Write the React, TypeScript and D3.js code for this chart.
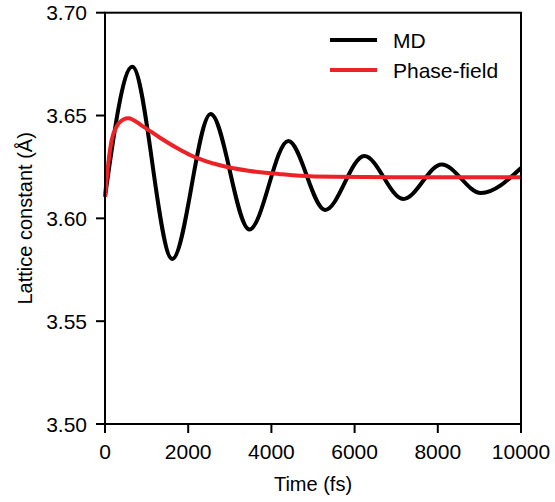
import React from "react";
import * as d3 from "d3";

const mdTime = [0, 656, 1618, 2540, 3470, 4407, 5290, 6233, 7171, 8094, 9038, 10000];
const mdValue = [3.6105, 3.6737, 3.5802, 3.6507, 3.5946, 3.6376, 3.6041, 3.6303, 3.6094, 3.6262, 3.6123, 3.6245];

const pfTime = [0, 80, 160, 280, 440, 560, 920, 1322, 1763, 2043, 2400, 2764, 3486, 4207, 4688, 5500, 7000, 10000];
const pfValue = [3.6105, 3.6269, 3.638, 3.6446, 3.6481, 3.6487, 3.6446, 3.6392, 3.6338, 3.6308, 3.628, 3.6258, 3.623, 3.6215, 3.6207, 3.6202, 3.62, 3.62];

const xTicks = [0, 2000, 4000, 6000, 8000, 10000];
const yTicks = [3.5, 3.55, 3.6, 3.65, 3.7];

const seriesNames = ["MD", "Phase-field"];
const seriesColors = ["#000000", "#ec2227"];

export default function App() {
  const W = 555, H = 502;
  const left = 105, right = 521, top = 12.7, bottom = 424;
  const x = d3.scaleLinear().domain([0, 10000]).range([left, right]);
  const y = d3.scaleLinear().domain([3.5, 3.7]).range([bottom, top]);
  const font = "'Liberation Sans', Arial, Helvetica, sans-serif";

  const line = d3
    .line<[number, number]>()
    .x((d) => x(d[0]))
    .y((d) => y(d[1]))
    .curve(d3.curveMonotoneX);

  const md = mdTime.map((t, i) => [t, mdValue[i]] as [number, number]);
  const pf = pfTime.map((t, i) => [t, pfValue[i]] as [number, number]);

  return (
    <svg width={W} height={H} style={{ position: "absolute", left: 0, top: 0 }} fontFamily={font}>
      <rect width={W} height={H} fill="#fff" />
      <path d={line(md) || ""} fill="none" stroke={seriesColors[0]} strokeWidth={4} strokeLinejoin="round" />
      <path d={line(pf) || ""} fill="none" stroke={seriesColors[1]} strokeWidth={4} strokeLinejoin="round" />
      <rect x={left} y={top} width={right - left} height={bottom - top} fill="none" stroke="#000" strokeWidth={2} />
      {yTicks.map((v) => (
        <g key={"y" + v}>
          <line x1={left - 9} x2={left} y1={y(v)} y2={y(v)} stroke="#000" strokeWidth={2} />
          <text x={left - 18} y={y(v)} dy="0.36em" textAnchor="end" fontSize={21}>
            {v.toFixed(2)}
          </text>
        </g>
      ))}
      {xTicks.map((v) => (
        <g key={"x" + v}>
          <line x1={x(v)} x2={x(v)} y1={bottom} y2={bottom + 9} stroke="#000" strokeWidth={2} />
          <text x={x(v)} y={459} textAnchor="middle" fontSize={21}>
            {v}
          </text>
        </g>
      ))}
      <text x={(left + right) / 2} y={491} textAnchor="middle" fontSize={20}>
        Time (fs)
      </text>
      <text
        transform={`translate(31.5, ${(top + bottom) / 2}) rotate(-90)`}
        textAnchor="middle"
        fontSize={20}
      >
        Lattice constant (Å)
      </text>
      {seriesNames.map((n, i) => (
        <g key={n}>
          <line x1={330} x2={377} y1={40 + i * 30} y2={40 + i * 30} stroke={seriesColors[i]} strokeWidth={4} />
          <text x={393} y={40 + i * 30} dy="0.36em" fontSize={21}>
            {n}
          </text>
        </g>
      ))}
    </svg>
  );
}
